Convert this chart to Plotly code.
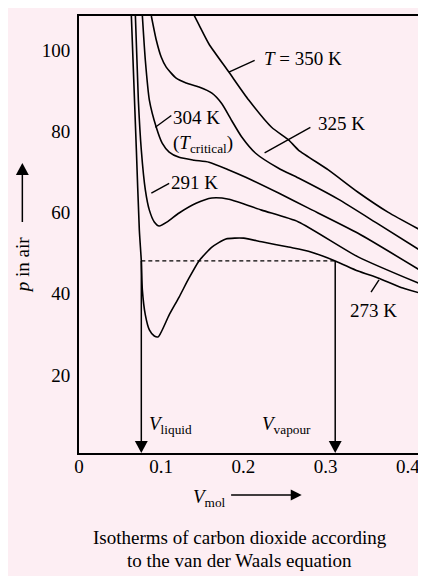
import plotly.graph_objects as go

# isotherms (V_mol, p)
V_273 = [0.0637, 0.0698, 0.0734, 0.0758, 0.0771, 0.0807, 0.0856, 0.0916, 0.0964, 0.1097, 0.1218,
         0.1339, 0.1460, 0.1617, 0.1787, 0.2004, 0.2222, 0.2549, 0.2791, 0.3117, 0.3395, 0.3638,
         0.3940, 0.4181]
P_273 = [108.4, 75.4, 55.7, 48.1, 40.9, 34.8, 31.1, 29.6, 29.4, 34.8, 39.2,
         43.9, 48.1, 51.5, 53.5, 53.7, 52.8, 51.5, 50.5, 48.1, 45.6, 43.9,
         41.4, 40.0]

V_291 = [0.0686, 0.0722, 0.0758, 0.0807, 0.0856, 0.0916, 0.0976, 0.1073, 0.1218, 0.1424,
         0.1617, 0.1823, 0.2222, 0.2670, 0.3395, 0.4181]
P_291 = [108.4, 87.7, 75.4, 65.6, 60.6, 57.7, 56.7, 57.7, 59.9, 62.3,
         63.6, 63.3, 60.6, 57.7, 49.1, 42.2]

V_304 = [0.0771, 0.0807, 0.0856, 0.0940, 0.1012, 0.1097, 0.1218, 0.1400, 0.1581, 0.1823,
         0.2028, 0.2428, 0.2791, 0.3395, 0.4181]
P_304 = [108.4, 97.5, 87.7, 81.0, 77.1, 74.9, 73.6, 72.9, 72.4, 70.5,
         68.7, 64.8, 61.1, 54.9, 45.4]

V_325 = [0.0880, 0.0940, 0.1000, 0.1061, 0.1182, 0.1303, 0.1460, 0.1617, 0.1738, 0.1859,
         0.1980, 0.2149, 0.2428, 0.2670, 0.3153, 0.3638, 0.4181]
P_325 = [108.4, 102.5, 98.3, 95.8, 93.1, 91.9, 90.9, 89.4, 86.8, 82.6,
         78.6, 74.6, 70.9, 68.5, 63.3, 57.2, 50.3]

V_350 = [0.1400, 0.1460, 0.1581, 0.1823, 0.2065, 0.2343, 0.2549, 0.2670, 0.3033, 0.3395,
         0.3758, 0.4181]
P_350 = [108.6, 106.2, 101.5, 94.6, 87.7, 81.0, 77.9, 75.4, 70.5, 65.0,
         60.1, 55.4]

# saturation (Maxwell) line and the two volumes
V_LIQUID = 0.0758
V_VAPOUR = 0.3117
P_SAT = 48.1

X_TICKS = [0, 0.1, 0.2, 0.3, 0.4]
X_TICK_TEXT = ["0", "0.1", "0.2", "0.3", "0.4"]
Y_TICKS = [20, 40, 60, 80, 100]
Y_TICK_TEXT = ["20", "40", "60", "80", "100"]

X_MIN, X_MAX = 0, 0.4185
Y_MIN, Y_MAX = 0.8, 108.4

FONT = "Liberation Serif"
PINK = "#fdeef3"
LW = 1.6
PLOT_W, PLOT_H = 346, 437


def tri(tip_x, tip_y, dx, dy, length, half):
    # triangle path with tip at (tip_x, tip_y) pointing along (dx, dy)
    bx, by = tip_x - dx * length, tip_y - dy * length
    px, py = -dy * half[0], dx * half[1]
    return f"M{tip_x},{tip_y} L{bx + px},{by + py} L{bx - px},{by - py} Z"


fig = go.Figure()

for vs, ps in [(V_273, P_273), (V_291, P_291), (V_304, P_304), (V_325, P_325), (V_350, P_350)]:
    fig.add_trace(go.Scatter(x=vs, y=ps, mode="lines",
                             line=dict(color="black", width=LW, shape="spline", smoothing=0.6),
                             hoverinfo="skip"))

# dashed saturation line
fig.add_trace(go.Scatter(x=[V_LIQUID, V_VAPOUR], y=[P_SAT, P_SAT], mode="lines",
                         line=dict(color="black", width=1.3, dash="4px,3px"), hoverinfo="skip"))

shapes = []

# leader lines from curves to labels
leaders = [
    ((0.1823, 94.6), (0.2137, 97.5)),   # 350 K
    ((0.2258, 74.7), (0.2815, 81.0)),   # 325 K
    ((0.0928, 81.0), (0.1123, 83.9)),   # 304 K
    ((0.0880, 64.8), (0.1097, 67.2)),   # 291 K
    ((0.3650, 43.4), (0.3553, 40.4)),   # 273 K
]
for (x0, y0), (x1, y1) in leaders:
    shapes.append(dict(type="line", xref="x", yref="y", x0=x0, y0=y0, x1=x1, y1=y1,
                       line=dict(color="black", width=1.4)))

# arrows from the dashed line down to the volume axis
xpx = (X_MAX - X_MIN) / PLOT_W
ypx = (Y_MAX - Y_MIN) / PLOT_H
head_len = 12 * ypx
for v in [V_LIQUID, V_VAPOUR]:
    shapes.append(dict(type="line", xref="x", yref="y", x0=v, x1=v, y0=P_SAT, y1=Y_MIN + head_len,
                       line=dict(color="black", width=1.5)))
    shapes.append(dict(type="path", xref="x", yref="y",
                       path=tri(v, Y_MIN, 0, -1, head_len, (6.5 * xpx, 0)),
                       fillcolor="black", line=dict(width=0)))

# axis-title arrows (paper coordinates)
up_x, up_tip, up_tail = -0.1647, 0.6636, 0.5286
shapes.append(dict(type="line", xref="paper", yref="paper", x0=up_x, x1=up_x, y0=up_tail,
                   y1=up_tip - 11 / PLOT_H, line=dict(color="black", width=1.5)))
shapes.append(dict(type="path", xref="paper", yref="paper",
                   path=tri(up_x, up_tip, 0, 1, 12 / PLOT_H, (6.5 / PLOT_W, 0)),
                   fillcolor="black", line=dict(width=0)))
rt_y, rt_tip, rt_tail = -0.0961, 0.6474, 0.4422
shapes.append(dict(type="line", xref="paper", yref="paper", x0=rt_tail, x1=rt_tip - 10 / PLOT_W,
                   y0=rt_y, y1=rt_y, line=dict(color="black", width=1.5)))
shapes.append(dict(type="path", xref="paper", yref="paper",
                   path=tri(rt_tip, rt_y, 1, 0, 11 / PLOT_W, (0, 5.5 / PLOT_H)),
                   fillcolor="black", line=dict(width=0)))

txt = dict(family=FONT, size=19, color="black")
annotations = []
labels = [
    ("<i>T</i> = 350 K", 0.2226, 98.0),
    ("325 K", 0.2887, 82.0),
    ("304 K", 0.1123, 83.5),
    ("(<i>T</i><sub>critical</sub>)", 0.1123, 77.0),
    ("291 K", 0.1099, 67.5),
    ("273 K", 0.3274, 35.8),
    ("<i>V</i><sub>liquid</sub>", 0.0831, 7.6),
    ("<i>V</i><sub>vapour</sub>", 0.2201, 7.6),
]
for t, x, y in labels:
    annotations.append(dict(text=t, x=x, y=y, xref="x", yref="y", showarrow=False,
                            xanchor="left", yanchor="middle", font=txt))

annotations += [
    dict(text="<i>p</i> in air", x=-0.165, y=0.43, xref="paper", yref="paper", textangle=-90,
         showarrow=False, xanchor="center", yanchor="middle", font=txt),
    dict(text="<i>V</i><sub>mol</sub>", x=0.434, y=-0.102, xref="paper", yref="paper",
         showarrow=False, xanchor="right", yanchor="middle", font=txt),
    dict(text="Isotherms of carbon dioxide according", x=0.468, y=-0.1936, xref="paper",
         yref="paper", showarrow=False, xanchor="center", yanchor="middle", font=txt),
    dict(text="to the van der Waals equation", x=0.468, y=-0.2462, xref="paper",
         yref="paper", showarrow=False, xanchor="center", yanchor="middle", font=txt),
]

fig.update_layout(
    width=418, height=568,
    margin=dict(l=71, r=1, t=8, b=123),
    paper_bgcolor=PINK,
    plot_bgcolor=PINK,
    showlegend=False,
    font=txt,
    shapes=shapes,
    annotations=annotations,
)
fig.update_xaxes(range=[X_MIN, X_MAX], tickvals=X_TICKS, ticktext=X_TICK_TEXT, ticks="",
                 showgrid=False, zeroline=False, showline=True, mirror=True,
                 linecolor="black", linewidth=1.8, tickfont=txt, ticklabelstandoff=-5)
fig.update_yaxes(range=[Y_MIN, Y_MAX], tickvals=Y_TICKS, ticktext=Y_TICK_TEXT, ticks="",
                 showgrid=False, zeroline=False, showline=True, mirror=True,
                 linecolor="black", linewidth=1.8, tickfont=txt, ticklabelstandoff=3)

fig.write_html("out.html")
